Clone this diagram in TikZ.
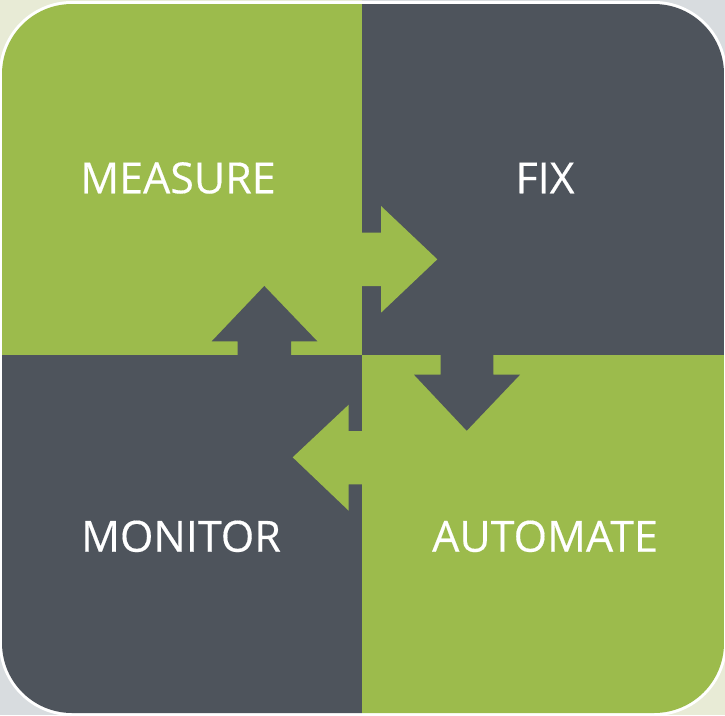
\documentclass[tikz,border=0pt]{standalone}
\usepackage{fontspec}
\setmainfont{Open Sans}
\definecolor{grn}{HTML}{9CBB4C}
\definecolor{drk}{HTML}{4E545C}
\definecolor{pgrn}{HTML}{E8EBD6}
\definecolor{pgry}{HTML}{D8DCDF}
\begin{document}
\begin{tikzpicture}[x=1pt,y=-1pt,
  lbl/.style={text=white,font=\fontsize{43}{50}\selectfont\addfontfeatures{FakeBold=0.3},inner sep=0pt,anchor=base}]
\useasboundingbox (0,0) rectangle (725,715);
% pale background quadrants
\fill[pgrn] (0,0) rectangle (362,355);
\fill[pgry] (362,0) rectangle (725,355);
\fill[pgry] (0,355) rectangle (362,715);
\fill[pgrn] (362,355) rectangle (725,715);
% white ring
\fill[white,rounded corners=73pt] (-1,1) rectangle (727,716);
% main quadrants
\begin{scope}
\clip[rounded corners=70pt] (2,4) rectangle (724,713);
\fill[grn] (0,0) rectangle (362,355);
\fill[drk] (362,0) rectangle (725,355);
\fill[drk] (0,355) rectangle (362,715);
\fill[grn] (362,355) rectangle (725,715);
\end{scope}
% arrows
\fill[grn] (355,232.7) -- (381,232.7) -- (381,206) -- (437.3,259.3) -- (381,312.7) -- (381,286) -- (355,286) -- cycle;
\fill[drk] (237.7,362) -- (237.7,341.3) -- (211.7,341.3) -- (264.3,286) -- (317.3,341.3) -- (291,341.3) -- (291,362) -- cycle;
\fill[drk] (440.7,348) -- (440.7,374.7) -- (414,374.7) -- (466.7,430.7) -- (520,374.7) -- (493.3,374.7) -- (493.3,348) -- cycle;
\fill[grn] (369,431) -- (348.7,431) -- (348.7,404.7) -- (292.7,457.3) -- (348.7,510.7) -- (348.7,484.3) -- (369,484.3) -- cycle;
% labels
\node[lbl] (measure) at (178,193.3) {MEASURE};
\node[lbl] (fix) at (545,193.3) {FIX};
\node[lbl] (monitor) at (181,551.7) {MONITOR};
\node[lbl] (automate) at (545,551.7) {AUTOMATE};
\end{tikzpicture}
\end{document}
